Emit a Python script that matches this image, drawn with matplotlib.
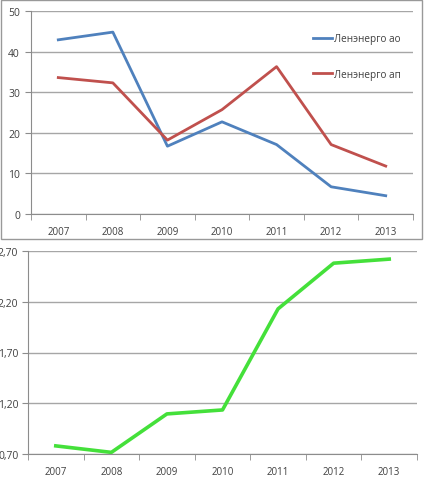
import matplotlib
matplotlib.use('Agg')
from matplotlib import pyplot as plt
from matplotlib.patches import Rectangle
from matplotlib.ticker import FixedLocator, NullFormatter

plt.rcParams['font.family'] = ['Open Sans', 'DejaVu Sans']

years = ['2007', '2008', '2009', '2010', '2011', '2012', '2013']
lenenergo_ao = [42.9, 44.8, 16.7, 22.7, 17.1, 6.7, 4.5]
lenenergo_ap = [33.6, 32.3, 18.2, 25.7, 36.3, 17.1, 11.8]
ratio = [0.78, 0.716, 1.095, 1.134, 2.13, 2.58, 2.62]
top_ticks = [0, 10, 20, 30, 40, 50]
bottom_ticks = [0.70, 1.20, 1.70, 2.20, 2.70]

W, H = 424, 481
fig = plt.figure(figsize=(W / 100, H / 100), dpi=100)
fig.patch.set_facecolor('white')

grid_c = '#a6a6a6'
axis_c = '#8c8c8c'
txt_c = '#404040'


def style(ax, yticks, ylabels, ypad):
    x = range(len(years))
    ax.set_xlim(-0.5, len(years) - 0.5)
    ax.set_ylim(yticks[0], yticks[-1])
    ax.set_yticks(yticks)
    ax.set_yticklabels(ylabels, fontsize=7.5, color=txt_c)
    ax.set_xticks(list(x))
    ax.set_xticklabels(years, fontsize=7, color=txt_c)
    ax.tick_params(axis='x', which='major', length=0, pad=9)
    ax.xaxis.set_minor_locator(FixedLocator([i - 0.5 for i in range(len(years) + 1)]))
    ax.xaxis.set_minor_formatter(NullFormatter())
    ax.tick_params(axis='x', which='minor', length=4, color=axis_c, direction='out')
    ax.tick_params(axis='y', length=4, color=axis_c, direction='out', pad=ypad)
    ax.grid(axis='y', color=grid_c, linewidth=1)
    ax.set_axisbelow(True)
    for s in ['top', 'right']:
        ax.spines[s].set_visible(False)
    ax.spines['left'].set_color(axis_c)
    ax.spines['bottom'].set_color(axis_c)
    ax.set_facecolor('none')


# top chart
ax1 = fig.add_axes([31 / W, 266 / H, 382 / W, 203 / H])
x = range(len(years))
ax1.plot(x, lenenergo_ao, color='#4f81bd', linewidth=2.0, label='Ленэнерго ао')
ax1.plot(x, lenenergo_ap, color='#c0504d', linewidth=2.0, label='Ленэнерго ап')
style(ax1, top_ticks, [str(t) for t in top_ticks], 4)
leg = ax1.legend(loc='upper left', bbox_to_anchor=(0.715, 0.935), frameon=False,
                 fontsize=7.2, handlelength=1.9, handletextpad=0.15,
                 labelspacing=2.45, labelcolor=txt_c)

# frame around top chart
fig.patches.append(Rectangle((1 / W, 241 / H), 421 / W, 239 / H, transform=fig.transFigure,
                             fill=False, edgecolor='#999999', linewidth=1))

# bottom chart
ax2 = fig.add_axes([28 / W, 26 / H, 389 / W, 203 / H])
ax2.plot(x, ratio, color='#44e03a', linewidth=2.6)
style(ax2, bottom_ticks, [('%.2f' % t).replace('.', ',') for t in bottom_ticks], 3)

fig.savefig('out.png', dpi=100)
